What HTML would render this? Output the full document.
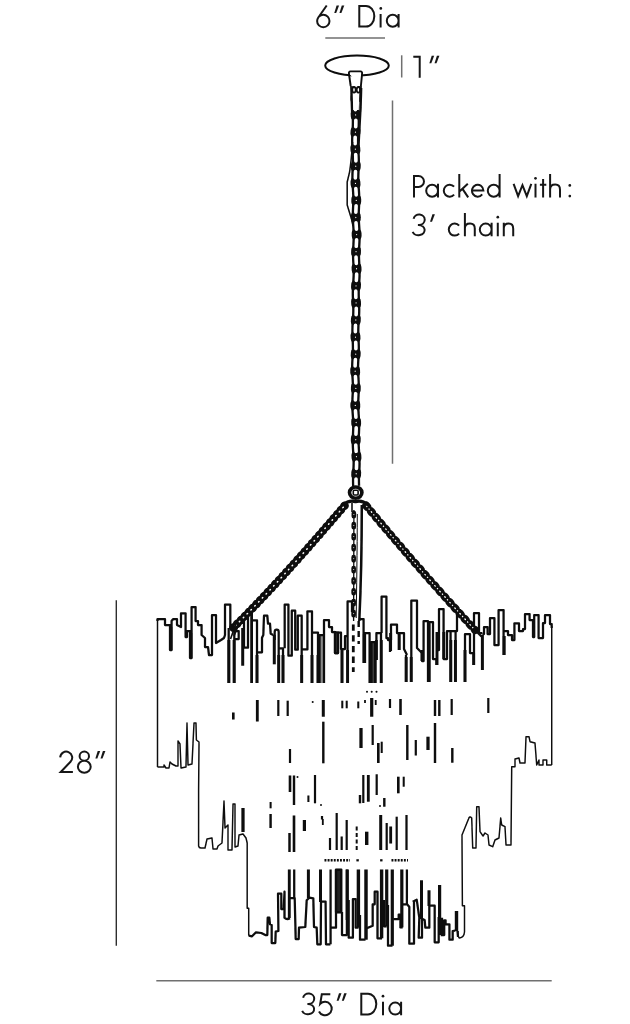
<!DOCTYPE html>
<html lang="en"><head><meta charset="utf-8"><title>Chandelier dimensions</title>
<style>
html,body{margin:0;padding:0;background:#fff;}
body{width:630px;height:1024px;overflow:hidden;font-family:"Liberation Sans",sans-serif;}
svg{display:block}
</style></head><body>
<svg width="630" height="1024" viewBox="0 0 630 1024">
<defs><filter id="soft" x="-2%" y="-2%" width="104%" height="104%"><feGaussianBlur stdDeviation="0.38"/></filter></defs>
<rect width="630" height="1024" fill="#fff"/>
<g filter="url(#soft)">

<g stroke="#6f6f6f" stroke-width="1.5" fill="none">
<path d="M325.3,38 H385"/>
<path d="M401.7,55.3 V77.5"/>
<path d="M392.5,100.6 V463.7"/>
<path d="M156.3,980.8 H551.7"/>
</g>
<path d="M116.3,600.3 V945.8" stroke="#2e2e2e" stroke-width="1.4" fill="none"/>
<g role="img" aria-label="6″ Dia"><title>6″ Dia</title><path d="M326.7,5.5 L318.3,17.5 M317.1,21.0 A6.2,6.2 0 1 0 329.5,21.0 A6.2,6.2 0 1 0 317.1,21.0 M318.3,17.5 Q317.2,19.1 317.1,21.0 M359.3,26.6 V5.899999999999999 H366.0 A8.3,10.35 0 0 1 366.0,26.6 Z M380.6,13.9 V27.5 M398.59999999999997,20.8 A5.9,6.0 0 1 1 386.8,20.8 A5.9,6.0 0 1 1 398.59999999999997,20.8 M398.6,13.9 V27.5" fill="none" stroke="#161616" stroke-width="2.0" stroke-linecap="butt" stroke-linejoin="miter"/><g fill="#161616"><path d="M336.60,5.5 L339.10,5.5 L336.20,12.9 L334.25,12.9 Z"/><path d="M341.80,5.5 L344.30,5.5 L341.40,12.9 L339.45,12.9 Z"/><circle cx="380.8" cy="8.399999999999999" r="1.35"/></g></g>
<g role="img" aria-label="1″"><title>1″</title><path d="M413.3,56.8 H419.7 V77.8" fill="none" stroke="#161616" stroke-width="2.0" stroke-linecap="butt" stroke-linejoin="miter"/><g fill="#161616"><path d="M431.70,55.8 L434.20,55.8 L431.30,63.199999999999996 L429.35,63.199999999999996 Z"/><path d="M436.90,55.8 L439.40,55.8 L436.50,63.199999999999996 L434.55,63.199999999999996 Z"/></g></g>
<g role="img" aria-label="Packed with:"><title>Packed with:</title><path d="M414.0,197.4 V176.0 H418.55 A5.45,5.45 0 0 1 418.55,186.9 H414.0 M437.99999999999994,190.70000000000002 A5.9,6.0 0 1 1 426.2,190.70000000000002 A5.9,6.0 0 1 1 437.99999999999994,190.70000000000002 M438.0,183.8 V197.4 M454.08,186.69 A5.9,6.0 0 1 0 454.08,194.71 M459.3,174.1 V197.4 M467.8,183.8 L459.5,191.6 M462.5,188.9 L468.2,197.4 M472.0,190.50000000000003 H483.4 A5.7,6.0 0 1 0 482.19,194.39 M499.59999999999997,190.70000000000002 A5.9,6.0 0 1 1 487.8,190.70000000000002 A5.9,6.0 0 1 1 499.59999999999997,190.70000000000002 M499.6,174.1 V197.4 M513.6,183.8 L518.1,196.1 L522.45,185.20000000000002 L526.8000000000001,196.1 L531.3000000000001,183.8 M535.5,183.8 V197.4 M543.1,178.9 V197.4 M539.9,184.8 H546.3000000000001 M550.0999999999999,174.1 V197.4 M550.0999999999999,189.4 C550.0999999999999,186.20000000000002 552.2779999999999,184.6 555.2479999999999,184.6 C558.3169999999999,184.6 559.9999999999999,186.4 559.9999999999999,189.8 V197.4" fill="none" stroke="#161616" stroke-width="2.0" stroke-linecap="butt" stroke-linejoin="miter"/><g fill="#161616"><circle cx="535.5" cy="178.3" r="1.35"/><circle cx="569.8" cy="185.4" r="1.35"/><circle cx="569.8" cy="196.1" r="1.35"/></g></g>
<g role="img" aria-label="3′ chain"><title>3′ chain</title><path d="M413.6,218.8 A5.6,5.2 0 1 1 419.1,224.9 H417.90000000000003 M418.45,224.9 A6.15,5.15 0 1 1 412.67,231.8 M459.08,225.59 A5.9,6.0 0 1 0 459.08,233.61 M464.90000000000003,213.0 V236.3 M464.90000000000003,228.3 C464.90000000000003,225.10000000000002 467.07800000000003,223.5 470.04800000000006,223.5 C473.117,223.5 474.8,225.3 474.8,228.70000000000002 V236.3 M491.59999999999997,229.60000000000002 A5.9,6.0 0 1 1 479.8,229.60000000000002 A5.9,6.0 0 1 1 491.59999999999997,229.60000000000002 M491.6,222.70000000000002 V236.3 M497.8,222.70000000000002 V236.3 M503.8,222.70000000000002 V236.3 M503.8,228.3 C503.8,225.10000000000002 505.868,223.5 508.688,223.5 C511.60200000000003,223.5 513.2,225.3 513.2,228.70000000000002 V236.3" fill="none" stroke="#161616" stroke-width="2.0" stroke-linecap="butt" stroke-linejoin="miter"/><g fill="#161616"><path d="M432.40,214.3 L434.90,214.3 L432.00,221.70000000000002 L430.05,221.70000000000002 Z"/><circle cx="497.8" cy="217.20000000000002" r="1.35"/></g></g>
<g role="img" aria-label="28″"><title>28″</title><path d="M60.199999999999996,757.4 A6.0,6.0 0 1 1 70.5,761.8 L60.699999999999996,772.1 H72.89999999999999 M84.3,751.6 A4.7,4.55 0 1 1 84.3,760.7 A4.7,4.55 0 1 1 84.3,751.6 M84.3,760.7 A6.4,6.05 0 1 1 84.3,772.8 A6.4,6.05 0 1 1 84.3,760.7" fill="none" stroke="#161616" stroke-width="2.0" stroke-linecap="butt" stroke-linejoin="miter"/><g fill="#161616"><path d="M97.70,751.0 L100.20,751.0 L97.30,758.4 L95.35,758.4 Z"/><path d="M102.90,751.0 L105.40,751.0 L102.50,758.4 L100.55,758.4 Z"/></g></g>
<g role="img" aria-label="35″ Dia"><title>35″ Dia</title><path d="M303.1,997.8 A5.6,5.2 0 1 1 308.6,1003.9 H307.40000000000003 M307.95,1003.9 A6.15,5.15 0 1 1 302.17,1010.8 M330.3,994.3 H321.8 L320.2,1003.9 A6.7,6.7 0 1 1 319.00,1011.50 M361.3,1014.4 V993.6999999999999 H368.0 A8.3,10.35 0 0 1 368.0,1014.4 Z M383.0,1001.6999999999999 V1015.3 M401.09999999999997,1008.5999999999999 A5.9,6.0 0 1 1 389.3,1008.5999999999999 A5.9,6.0 0 1 1 401.09999999999997,1008.5999999999999 M401.1,1001.6999999999999 V1015.3" fill="none" stroke="#161616" stroke-width="2.0" stroke-linecap="butt" stroke-linejoin="miter"/><g fill="#161616"><path d="M339.00,993.3 L341.50,993.3 L338.60,1000.6999999999999 L336.65,1000.6999999999999 Z"/><path d="M344.20,993.3 L346.70,993.3 L343.80,1000.6999999999999 L341.85,1000.6999999999999 Z"/><circle cx="383" cy="996.1999999999999" r="1.35"/></g></g>
<path d="M157.5,767 V619.2" fill="none" stroke="#0a0a0a" stroke-width="1.45" stroke-linejoin="round" />
<path d="M157.5,621 V619.2 H165 V625 H170 V650 H171.6 V621 L173,619.2 H177 V625 L181,627 V613.4 H185.6 V637 H187 V631 H190 V658 H191.6 V607 H195.6 V621 H198 V625 H201.6 V635 L205,638 V647 H208 L209,655 H212 V615 H216 V643 L221,640 L224,638 L225,635 V604.6 H230.3 V628" fill="none" stroke="#0a0a0a" stroke-width="2.25" stroke-linejoin="round" />
<path d="M228.7,628 V683 M234.3,683 V631 H238.7 V639 H234.3" fill="none" stroke="#0a0a0a" stroke-width="2.25" stroke-linejoin="round" />
<path d="M242.7,628 V665.7" fill="none" stroke="#0a0a0a" stroke-width="3.0" stroke-linejoin="round" />
<path d="M244,621 V647.7 H248 V615" fill="none" stroke="#0a0a0a" stroke-width="2.25" stroke-linejoin="round" />
<path d="M251.6,613 V683" fill="none" stroke="#0a0a0a" stroke-width="2.8000000000000003" stroke-linejoin="round" />
<path d="M257,683 V620.3 H253" fill="none" stroke="#0a0a0a" stroke-width="2.25" stroke-linejoin="round" />
<path d="M257,652.3 H262 V637.7 L263.3,635 L264,615.7 H267.3 L268,623.7 H270 L270.7,633.7 L273.3,635" fill="none" stroke="#0a0a0a" stroke-width="2.25" stroke-linejoin="round" />
<path d="M274.3,635 V664.3" fill="none" stroke="#0a0a0a" stroke-width="3.0" stroke-linejoin="round" />
<path d="M274.7,640 V632 Q274.7,629.7 276.7,629.7 Q278.7,629.7 278.7,632 V648.3 H283 V683 M278.7,648.3 V683" fill="none" stroke="#0a0a0a" stroke-width="2.25" stroke-linejoin="round" />
<path d="M284.7,648.3 V604.6 H288.4 V655.7 H291.8 V610.7 H295.2 V649.7 H297.8 V615.7 H301.7 V683 M301.7,649.4 H307.4 V611.4 H312 V683 M312,632.6 H318 V683" fill="none" stroke="#0a0a0a" stroke-width="2.25" stroke-linejoin="round" />
<path d="M319.5,683 V635 H324 V683" fill="#8a8a8a" stroke="#0a0a0a" stroke-width="2.25" stroke-linejoin="round" />
<path d="M324,635 V620 H329 V627 H332 V632 H335 V653 H338 V632.6 H341 V649 H345 V636 H347.6 M342,649 V683" fill="none" stroke="#0a0a0a" stroke-width="2.25" stroke-linejoin="round" />
<path d="M371,683 V642 H375 V683" fill="#555" stroke="#0a0a0a" stroke-width="2.25" stroke-linejoin="round" />
<path d="M335,632 V653 H338 V632.6 Z" fill="#333" stroke="#0a0a0a" stroke-width="2.25" stroke-linejoin="round" />
<path d="M347.6,683 V601.4 H352 V612" fill="none" stroke="#0a0a0a" stroke-width="2.25" stroke-linejoin="round" />
<path d="M359,619 H363.6 V663 M365,663 V633 H369.6 V683 M376.4,660 V633 H381 V683" fill="none" stroke="#0a0a0a" stroke-width="2.25" stroke-linejoin="round" />
<path d="M381.6,633 V596.6 H386.4 V638 H388 V640 H390 V652 M390,640 H391 V624.6 H397 V633 H399 V650 M399,633 H404 V649 L407,655" fill="none" stroke="#0a0a0a" stroke-width="2.25" stroke-linejoin="round" />
<path d="M406,655 V682 M411.3,682 V600.6 H417 V648 L422,653 V661 H423.6 V621 H428 V682 M429.5,682 V622 H433 V659 H436.4 V665 M436.4,650 H439 V609 H443.6 V659 H447 V631 H450.6 V682 M450.6,631 H455.6 V682 M455.6,631 H457 V610 H461" fill="none" stroke="#0a0a0a" stroke-width="2.25" stroke-linejoin="round" />
<path d="M465,682 V634 H470 V653 H474 M474,665 V613 H479 V633 H482.4" fill="none" stroke="#0a0a0a" stroke-width="2.25" stroke-linejoin="round" />
<path d="M482.4,635 V670" fill="none" stroke="#0a0a0a" stroke-width="3.0" stroke-linejoin="round" />
<path d="M482.4,634 H484 V627 H487.6 V634 H490 V618 H494.4 V645 H498.6 V610 H503.6 V655 M504.4,631 H508 V635 H512 V640 H514.4 V623.4 H519 V631 H523 V629 H525 V614 H529.6 V620 H533 V637 H534.2 V615 H538.6 V638 H543 V623 H545 V615 H550 V624 H551.7 V628" fill="none" stroke="#0a0a0a" stroke-width="2.25" stroke-linejoin="round" />
<path d="M551.7,626 V765" fill="none" stroke="#0a0a0a" stroke-width="1.45" stroke-linejoin="round" />
<path d="M390.6,633 V651" fill="none" stroke="#0a0a0a" stroke-width="2.9" stroke-linejoin="round" />
<path d="M399.2,634 V650" fill="none" stroke="#0a0a0a" stroke-width="2.9" stroke-linejoin="round" />
<path d="M422,650 V661" fill="none" stroke="#0a0a0a" stroke-width="2.9" stroke-linejoin="round" />
<path d="M437,632 V665" fill="none" stroke="#0a0a0a" stroke-width="2.9" stroke-linejoin="round" />
<path d="M443.8,632 V659" fill="none" stroke="#0a0a0a" stroke-width="2.9" stroke-linejoin="round" />
<path d="M450.8,640 V682" fill="none" stroke="#0a0a0a" stroke-width="2.9" stroke-linejoin="round" />
<path d="M455.4,640 V682" fill="none" stroke="#0a0a0a" stroke-width="2.9" stroke-linejoin="round" />
<path d="M473.6,653 V665" fill="none" stroke="#0a0a0a" stroke-width="2.9" stroke-linejoin="round" />
<path d="M504.2,636 V655" fill="none" stroke="#0a0a0a" stroke-width="2.9" stroke-linejoin="round" />
<path d="M406.2,657 V682" fill="none" stroke="#0a0a0a" stroke-width="2.9" stroke-linejoin="round" />
<path d="M411.2,657 V682" fill="none" stroke="#0a0a0a" stroke-width="2.9" stroke-linejoin="round" />
<path d="M428.7,640 V682" fill="none" stroke="#0a0a0a" stroke-width="2.9" stroke-linejoin="round" />
<path d="M465,650 V682" fill="none" stroke="#0a0a0a" stroke-width="2.9" stroke-linejoin="round" />
<path d="M170.8,627 V650" fill="none" stroke="#0a0a0a" stroke-width="2.9" stroke-linejoin="round" />
<path d="M190.8,633 V658" fill="none" stroke="#0a0a0a" stroke-width="2.9" stroke-linejoin="round" />
<path d="M342,650 V683" fill="none" stroke="#0a0a0a" stroke-width="2.9" stroke-linejoin="round" />
<path d="M364.3,634 V663" fill="none" stroke="#0a0a0a" stroke-width="2.9" stroke-linejoin="round" />
<path d="M376.4,640 V660" fill="none" stroke="#0a0a0a" stroke-width="2.9" stroke-linejoin="round" />
<path d="M381.3,640 V683" fill="none" stroke="#0a0a0a" stroke-width="2.9" stroke-linejoin="round" />
<path d="M371.2,643 V683" fill="none" stroke="#0a0a0a" stroke-width="2.9" stroke-linejoin="round" />
<path d="M375.2,643 V683" fill="none" stroke="#0a0a0a" stroke-width="2.9" stroke-linejoin="round" />
<path d="M301.7,655 V683" fill="none" stroke="#0a0a0a" stroke-width="2.9" stroke-linejoin="round" />
<path d="M312,655 V683" fill="none" stroke="#0a0a0a" stroke-width="2.9" stroke-linejoin="round" />
<path d="M318,655 V683" fill="none" stroke="#0a0a0a" stroke-width="2.9" stroke-linejoin="round" />
<path d="M283,655 V683" fill="none" stroke="#0a0a0a" stroke-width="2.9" stroke-linejoin="round" />
<path d="M278.7,655 V683" fill="none" stroke="#0a0a0a" stroke-width="2.9" stroke-linejoin="round" />
<path d="M228.9,640 V683" fill="none" stroke="#0a0a0a" stroke-width="2.9" stroke-linejoin="round" />
<path d="M234.1,640 V683" fill="none" stroke="#0a0a0a" stroke-width="2.9" stroke-linejoin="round" />
<path d="M257,655 V683" fill="none" stroke="#0a0a0a" stroke-width="2.9" stroke-linejoin="round" />
<path d="M347.6,650 V683" fill="none" stroke="#0a0a0a" stroke-width="2.9" stroke-linejoin="round" />
<path d="M551.7,765 H546.7 V760 H543 V765 H539 V760 L536.7,765 L535,743 L530,741.7 L529,736.7 H526 L525,763 H520 L519,758 L515,759 V766.7 H511.7 L511,845 H506 L505,826.7 L501.7,825 L500.7,818 L499,838 L495,840 L492.7,846.7 L489,845 L488,835 L485,833 L483,836 L480,831.7 L479,806.7 H476.7 L476,848 H472.7 L471.7,818 Q469.5,815.5 468.5,819 L462,835 L462.4,905.7 H464.5 V932 Q464,937.5 459.5,938 Q457.8,937.5 458,931" fill="none" stroke="#0a0a0a" stroke-width="1.45" stroke-linejoin="round" />
<path d="M157.5,767 H164 V765 L166,768 H169 L170,762 L172,764 L176,766 H178 V741 L180,744 L181,768 L186,767 L187,723 L188,765 L192,764 L194,723 H196 L196.4,740 L199,742 L198.6,790 V846 Q199,848 201,848 H205 L207,839 L212,838 L213,849 H217 L218,846 L222,843 L224,801 L225,828 L228,825 V850 H232 L233,804 H235 V847 L238,846 L239,835 L243,834 L246,838 L247.2,843 V908.3 H248.7 V935.7" fill="none" stroke="#0a0a0a" stroke-width="1.45" stroke-linejoin="round" />
<path d="M243,808 V832" fill="none" stroke="#0a0a0a" stroke-width="3.2" stroke-linejoin="round" />
<path d="M248.7,935.7 L252,936.3 L256,932.3 L261.3,933 L265.3,935 H267.3 L267.7,917.7 H269.3 L270,924.3 L271.7,925 V943 H275.3 L275.7,931.7 L278.4,931 L278,893.7 H281.3 V909 H283.7 L284.5,891.7 V917.7 Q286.7,920 290,918.3" fill="none" stroke="#0a0a0a" stroke-width="2.25" stroke-linejoin="round" />
<path d="M289.3,869.5 V918" fill="none" stroke="#0a0a0a" stroke-width="2.9" stroke-linejoin="round" />
<path d="M294.2,869.5 V898 M289.3,898 H294.7 L295.7,939 H298.7 L299,927.7 L305.3,927 L306.7,900.3 L309.3,897.7 L313.3,898.3 L314,927 L316.7,927.7 L317.3,944.3 H320.7 L321,901.7 H325.6 L326,944.3 H330.4" fill="none" stroke="#0a0a0a" stroke-width="2.25" stroke-linejoin="round" />
<path d="M308.4,869.5 V898" fill="none" stroke="#0a0a0a" stroke-width="3.0" stroke-linejoin="round" />
<path d="M320.5,869.5 V902" fill="none" stroke="#0a0a0a" stroke-width="3.0" stroke-linejoin="round" />
<path d="M330.6,944.3 V869.5 M331.3,927.7 H336 V869.5" fill="none" stroke="#0a0a0a" stroke-width="2.25" stroke-linejoin="round" />
<path d="M336,869.5 V912.3 H341.3 V869.5 Z" fill="#222" stroke="#0a0a0a" stroke-width="2.25" stroke-linejoin="round" />
<path d="M342,912 V935 H346.9 V869.5" fill="none" stroke="#0a0a0a" stroke-width="2.25" stroke-linejoin="round" />
<path d="M347.3,869.5 V920" fill="none" stroke="#0a0a0a" stroke-width="3.2" stroke-linejoin="round" />
<path d="M348.7,900 V937.7 H352.9 V899 H355.7 V927.7 H358.5" fill="none" stroke="#0a0a0a" stroke-width="2.25" stroke-linejoin="round" />
<path d="M358.4,869.5 V927.7" fill="none" stroke="#0a0a0a" stroke-width="3.4" stroke-linejoin="round" />
<path d="M360,915 V939.7 H365.5" fill="none" stroke="#0a0a0a" stroke-width="2.25" stroke-linejoin="round" />
<path d="M366,869.5 V939.7" fill="none" stroke="#0a0a0a" stroke-width="3.4" stroke-linejoin="round" />
<path d="M366.7,928.3 L372.7,925.7 V904.3 H374.7 V891.7 H377.5 V938.3 H382" fill="none" stroke="#0a0a0a" stroke-width="2.25" stroke-linejoin="round" />
<path d="M381.6,869.5 V938.3" fill="none" stroke="#0a0a0a" stroke-width="3.4" stroke-linejoin="round" />
<path d="M384,900 V926.3 H386.7" fill="none" stroke="#0a0a0a" stroke-width="2.25" stroke-linejoin="round" />
<path d="M386.7,869.5 V926.3" fill="none" stroke="#0a0a0a" stroke-width="3.2" stroke-linejoin="round" />
<path d="M388,905 V945.7 H392.5" fill="none" stroke="#0a0a0a" stroke-width="2.25" stroke-linejoin="round" />
<path d="M392.3,869.5 V945.7" fill="none" stroke="#0a0a0a" stroke-width="3.2" stroke-linejoin="round" />
<path d="M393.3,919 H398.7 V914.6 H400.4 V927.4 H402.7" fill="none" stroke="#0a0a0a" stroke-width="2.25" stroke-linejoin="round" />
<path d="M401.8,869.5 V927.4" fill="none" stroke="#0a0a0a" stroke-width="3.2" stroke-linejoin="round" />
<path d="M406.9,869.5 V904.3 M402,904.3 H407.3 L409.3,907 V943.7 H414 V901.7 M412.7,901.7 L416.7,899.7 L419.3,917.7 L418.7,937.7 H422 V919" fill="none" stroke="#0a0a0a" stroke-width="2.25" stroke-linejoin="round" />
<path d="M421.5,880.3 V919" fill="none" stroke="#0a0a0a" stroke-width="3.0" stroke-linejoin="round" />
<path d="M422.7,919 L424.7,920.3 L425.3,927.7 H429.3 V905.7" fill="none" stroke="#0a0a0a" stroke-width="2.25" stroke-linejoin="round" />
<path d="M429,890.3 V906" fill="none" stroke="#0a0a0a" stroke-width="3.0" stroke-linejoin="round" />
<path d="M430,905.7 H434.7 V942.3 H438.7 V917" fill="none" stroke="#0a0a0a" stroke-width="2.25" stroke-linejoin="round" />
<path d="M439.6,885 V935" fill="none" stroke="#0a0a0a" stroke-width="3.2" stroke-linejoin="round" />
<path d="M442,917.7 V935 M440.7,935 H444.2 V920.3 H445.6 V924.3 H449.4 V939.7 H452.7 V931 L455.3,930.6" fill="none" stroke="#0a0a0a" stroke-width="2.25" stroke-linejoin="round" />
<path d="M456.5,911 V931" fill="none" stroke="#0a0a0a" stroke-width="3.4" stroke-linejoin="round" />
<path d="M457.5,931 L458,937" fill="none" stroke="#0a0a0a" stroke-width="2.25" stroke-linejoin="round" />
<path d="M233.3,712.5 V719.5" stroke="#0a0a0a" stroke-width="2.6" fill="none"/>
<path d="M257.3,700 V721.5" stroke="#0a0a0a" stroke-width="2.8" fill="none"/>
<path d="M278.3,700 V716" stroke="#0a0a0a" stroke-width="2.2" fill="none"/>
<path d="M287.7,700.7 V716" stroke="#0a0a0a" stroke-width="2.2" fill="none"/>
<path d="M323.3,700 V716.7" stroke="#0a0a0a" stroke-width="3.0" fill="none"/>
<path d="M342.3,700.7 V708.3" stroke="#0a0a0a" stroke-width="2.0" fill="none"/>
<path d="M346.7,700.7 V708.3" stroke="#0a0a0a" stroke-width="2.0" fill="none"/>
<path d="M358.3,701.5 V708.3" stroke="#0a0a0a" stroke-width="2.0" fill="none"/>
<path d="M365,700 V703" stroke="#0a0a0a" stroke-width="1.7999999999999998" fill="none"/>
<path d="M371.7,698 V716.7" stroke="#0a0a0a" stroke-width="3.1999999999999997" fill="none"/>
<path d="M375.7,700 V705" stroke="#0a0a0a" stroke-width="1.7999999999999998" fill="none"/>
<path d="M390,699 V708" stroke="#0a0a0a" stroke-width="2.2" fill="none"/>
<path d="M400.5,699 V715" stroke="#0a0a0a" stroke-width="2.6" fill="none"/>
<path d="M435,700 V716" stroke="#0a0a0a" stroke-width="2.4" fill="none"/>
<path d="M439.3,700 V716" stroke="#0a0a0a" stroke-width="2.4" fill="none"/>
<path d="M451.7,699 V715" stroke="#0a0a0a" stroke-width="2.2" fill="none"/>
<path d="M488.3,698 V713" stroke="#0a0a0a" stroke-width="2.2" fill="none"/>
<path d="M290,749 V763" stroke="#0a0a0a" stroke-width="2.2" fill="none"/>
<path d="M323.3,721.7 V763.3" stroke="#0a0a0a" stroke-width="2.4" fill="none"/>
<path d="M361,728 V748" stroke="#0a0a0a" stroke-width="3.1999999999999997" fill="none"/>
<path d="M372.7,725 V745" stroke="#0a0a0a" stroke-width="2.2" fill="none"/>
<path d="M378.3,743 V763" stroke="#0a0a0a" stroke-width="2.6" fill="none"/>
<path d="M381.7,741.7 V753" stroke="#0a0a0a" stroke-width="2.0" fill="none"/>
<path d="M407.3,725 V760" stroke="#0a0a0a" stroke-width="2.4" fill="none"/>
<path d="M415.8,740 V755.5" stroke="#0a0a0a" stroke-width="2.2" fill="none"/>
<path d="M428,736.7 V750" stroke="#0a0a0a" stroke-width="3.1999999999999997" fill="none"/>
<path d="M435,723 V763" stroke="#0a0a0a" stroke-width="2.4" fill="none"/>
<path d="M452.3,748 V762.7" stroke="#0a0a0a" stroke-width="2.4" fill="none"/>
<path d="M290,775.5 V792" stroke="#0a0a0a" stroke-width="2.6" fill="none"/>
<path d="M294,775.5 V805" stroke="#0a0a0a" stroke-width="2.4" fill="none"/>
<path d="M308.4,795.5 V802" stroke="#0a0a0a" stroke-width="2.0" fill="none"/>
<path d="M315,775 V803.3" stroke="#0a0a0a" stroke-width="2.2" fill="none"/>
<path d="M360,795 V803.3" stroke="#0a0a0a" stroke-width="2.4" fill="none"/>
<path d="M363.3,775 V803" stroke="#0a0a0a" stroke-width="2.2" fill="none"/>
<path d="M368.3,775 V801.7" stroke="#0a0a0a" stroke-width="2.8" fill="none"/>
<path d="M376.7,774.3 V795" stroke="#0a0a0a" stroke-width="2.2" fill="none"/>
<path d="M384.3,798 V806.7" stroke="#0a0a0a" stroke-width="2.4" fill="none"/>
<path d="M398.3,776.7 V793.3" stroke="#0a0a0a" stroke-width="2.6" fill="none"/>
<path d="M403.7,776.7 V786.7" stroke="#0a0a0a" stroke-width="2.0" fill="none"/>
<path d="M270.6,802 V808.3" stroke="#0a0a0a" stroke-width="2.0" fill="none"/>
<path d="M270.6,814 V828" stroke="#0a0a0a" stroke-width="2.4" fill="none"/>
<path d="M294,815.5 V852" stroke="#0a0a0a" stroke-width="2.6" fill="none"/>
<path d="M289.5,833 V852" stroke="#0a0a0a" stroke-width="2.4" fill="none"/>
<path d="M304.4,820 V831" stroke="#0a0a0a" stroke-width="3.1999999999999997" fill="none"/>
<path d="M322,816 V819.5" stroke="#0a0a0a" stroke-width="2.2" fill="none"/>
<path d="M322.8,819 V825" stroke="#0a0a0a" stroke-width="1.7999999999999998" fill="none"/>
<path d="M330,838 V850" stroke="#0a0a0a" stroke-width="2.2" fill="none"/>
<path d="M336.7,813 V850" stroke="#0a0a0a" stroke-width="2.2" fill="none"/>
<path d="M341.7,836.5 V850" stroke="#0a0a0a" stroke-width="2.2" fill="none"/>
<path d="M346.7,820 V850" stroke="#0a0a0a" stroke-width="2.2" fill="none"/>
<path d="M366.7,831.7 V845" stroke="#0a0a0a" stroke-width="3.4" fill="none"/>
<path d="M380.7,815 V850" stroke="#0a0a0a" stroke-width="3.0" fill="none"/>
<path d="M386.7,823 V850" stroke="#0a0a0a" stroke-width="2.2" fill="none"/>
<path d="M390.7,826.5 V843.5" stroke="#0a0a0a" stroke-width="2.8" fill="none"/>
<path d="M396.7,816.7 V850" stroke="#0a0a0a" stroke-width="2.2" fill="none"/>
<path d="M406.5,815 V850" stroke="#0a0a0a" stroke-width="2.2" fill="none"/>
<path d="M356.7,826.5 V850" stroke="#0a0a0a" stroke-width="2" stroke-dasharray="4 2.5" fill="none"/>
<circle cx="312.7" cy="702" r="1" fill="#0a0a0a"/>
<circle cx="367" cy="691.7" r="1" fill="#0a0a0a"/>
<circle cx="371.7" cy="691.7" r="1" fill="#0a0a0a"/>
<circle cx="376.5" cy="691.7" r="1" fill="#0a0a0a"/>
<circle cx="297.5" cy="777" r="1" fill="#0a0a0a"/>
<circle cx="321" cy="805" r="1" fill="#0a0a0a"/>
<circle cx="380" cy="806" r="1" fill="#0a0a0a"/>
<path d="M324.5,860.3 H350" stroke="#0a0a0a" stroke-width="2.4" stroke-dasharray="1.9 1.2" fill="none"/>
<path d="M391.5,860.3 H408" stroke="#0a0a0a" stroke-width="2.4" stroke-dasharray="1.9 1.2" fill="none"/>
<rect x="356.4" y="859.2" width="2.4" height="2.2" fill="#0a0a0a"/>
<rect x="380.09999999999997" y="859.2" width="2.4" height="2.2" fill="#0a0a0a"/>
<ellipse cx="357" cy="65.5" rx="31.8" ry="10" fill="#fff" stroke="#0a0a0a" stroke-width="2"/>
<path d="M348.9,73.5 Q348.6,71.6 350.6,71.4 H360.4 Q362.4,71.6 362.1,73.5 L360.9,86 M350.7,86 L348.9,73.5" fill="#fff" stroke="#0a0a0a" stroke-width="1.9" stroke-linejoin="round"/>
<path d="M356.16,86.0 L356.10,88.0 L356.00,90.0 L355.88,92.0 L355.74,94.0 L355.60,96.0 L355.48,98.0 L355.37,100.0 L355.30,102.0 L355.27,104.0 L355.28,106.0 L355.32,108.0 L355.39,110.0 L355.49,112.0 L355.59,114.0 L355.69,116.0 L355.77,118.0 L355.82,120.0 L355.84,122.0 L355.82,124.0 L355.76,126.0 L355.68,128.0 L355.57,130.0 L355.45,132.0 L355.33,134.0 L355.23,136.0 L355.15,138.0 L355.11,140.0 L355.11,142.0 L355.14,144.0 L355.21,146.0 L355.31,148.0 L355.43,150.0 L355.55,152.0 L355.67,154.0 L355.77,156.0 L355.84,158.0 L355.88,160.0 L355.88,162.0 L355.84,164.0 L355.78,166.0 L355.69,168.0 L355.59,170.0 L355.50,172.0 L355.42,174.0 L355.37,176.0 L355.35,178.0 L355.37,180.0 L355.43,182.0 L355.52,184.0 L355.64,186.0 L355.78,188.0 L355.92,190.0 L356.05,192.0 L356.16,194.0 L356.24,196.0 L356.28,198.0 L356.28,200.0 L356.25,202.0 L356.19,204.0 L356.10,206.0 L356.01,208.0 L355.92,210.0 L355.85,212.0 L355.80,214.0 L355.79,216.0 L355.81,218.0 L355.88,220.0 L355.97,222.0 L356.09,224.0 L356.22,226.0 L356.35,228.0 L356.47,230.0 L356.56,232.0 L356.63,234.0 L356.65,236.0 L356.63,238.0 L356.58,240.0 L356.50,242.0 L356.40,244.0 L356.29,246.0 L356.18,248.0 L356.09,250.0 L356.03,252.0 L356.00,254.0 L356.01,256.0 L356.06,258.0 L356.13,260.0 L356.23,262.0 L356.34,264.0 L356.45,266.0 L356.54,268.0 L356.60,270.0 L356.64,272.0 L356.63,274.0 L356.59,276.0 L356.50,278.0 L356.39,280.0 L356.27,282.0 L356.13,284.0 L356.01,286.0 L355.90,288.0 L355.82,290.0 L355.78,292.0 L355.77,294.0 L355.80,296.0 L355.87,298.0 L355.95,300.0 L356.04,302.0 L356.13,304.0 L356.20,306.0 L356.25,308.0 L356.27,310.0 L356.24,312.0 L356.18,314.0 L356.08,316.0 L355.96,318.0 L355.83,320.0 L355.69,322.0 L355.56,324.0 L355.45,326.0 L355.38,328.0 L355.34,330.0 L355.34,332.0 L355.37,334.0 L355.44,336.0 L355.53,338.0 L355.63,340.0 L355.72,342.0 L355.80,344.0 L355.85,346.0 L355.87,348.0 L355.86,350.0 L355.80,352.0 L355.71,354.0 L355.60,356.0 L355.48,358.0 L355.36,360.0 L355.25,362.0 L355.17,364.0 L355.11,366.0 L355.10,368.0 L355.13,370.0 L355.19,372.0 L355.29,374.0 L355.40,376.0 L355.52,378.0 L355.64,380.0 L355.73,382.0 L355.80,384.0 L355.84,386.0 L355.84,388.0 L355.80,390.0 L355.74,392.0 L355.65,394.0 L355.55,396.0 L355.45,398.0 L355.37,400.0 L355.31,402.0 L355.29,404.0 L355.30,406.0 L355.35,408.0 L355.44,410.0 L355.56,412.0 L355.69,414.0 L355.83,416.0 L355.96,418.0 L356.07,420.0 L356.16,422.0 L356.20,424.0 L356.21,426.0 L356.18,428.0 L356.12,430.0 L356.04,432.0 L355.95,434.0 L355.86,436.0 L355.78,438.0 L355.74,440.0 L355.72,442.0 L355.74,444.0 L355.80,446.0 L355.90,448.0 L356.02,450.0 L356.15,452.0 L356.28,454.0 L356.41,456.0 L356.51,458.0 L356.58,460.0 L356.61,462.0 L356.60,464.0 L356.55,466.0 L356.48,468.0 L356.38,470.0 L356.27,472.0 L356.17,474.0 L356.08,476.0 L356.02,478.0 L356.00,480.0 L356.01,482.0 L356.05,484.0 L356.13,486.0" fill="none" stroke="#0a0a0a" stroke-width="8.2"/>
<path d="M356.16,86.0 L356.10,88.0 L356.00,90.0 L355.88,92.0 L355.74,94.0 L355.60,96.0 L355.48,98.0 L355.37,100.0 L355.30,102.0 L355.27,104.0 L355.28,106.0 L355.32,108.0 L355.39,110.0 L355.49,112.0 L355.59,114.0 L355.69,116.0 L355.77,118.0 L355.82,120.0 L355.84,122.0 L355.82,124.0 L355.76,126.0 L355.68,128.0 L355.57,130.0 L355.45,132.0 L355.33,134.0 L355.23,136.0 L355.15,138.0 L355.11,140.0 L355.11,142.0 L355.14,144.0 L355.21,146.0 L355.31,148.0 L355.43,150.0 L355.55,152.0 L355.67,154.0 L355.77,156.0 L355.84,158.0 L355.88,160.0 L355.88,162.0 L355.84,164.0 L355.78,166.0 L355.69,168.0 L355.59,170.0 L355.50,172.0 L355.42,174.0 L355.37,176.0 L355.35,178.0 L355.37,180.0 L355.43,182.0 L355.52,184.0 L355.64,186.0 L355.78,188.0 L355.92,190.0 L356.05,192.0 L356.16,194.0 L356.24,196.0 L356.28,198.0 L356.28,200.0 L356.25,202.0 L356.19,204.0 L356.10,206.0 L356.01,208.0 L355.92,210.0 L355.85,212.0 L355.80,214.0 L355.79,216.0 L355.81,218.0 L355.88,220.0 L355.97,222.0 L356.09,224.0 L356.22,226.0 L356.35,228.0 L356.47,230.0 L356.56,232.0 L356.63,234.0 L356.65,236.0 L356.63,238.0 L356.58,240.0 L356.50,242.0 L356.40,244.0 L356.29,246.0 L356.18,248.0 L356.09,250.0 L356.03,252.0 L356.00,254.0 L356.01,256.0 L356.06,258.0 L356.13,260.0 L356.23,262.0 L356.34,264.0 L356.45,266.0 L356.54,268.0 L356.60,270.0 L356.64,272.0 L356.63,274.0 L356.59,276.0 L356.50,278.0 L356.39,280.0 L356.27,282.0 L356.13,284.0 L356.01,286.0 L355.90,288.0 L355.82,290.0 L355.78,292.0 L355.77,294.0 L355.80,296.0 L355.87,298.0 L355.95,300.0 L356.04,302.0 L356.13,304.0 L356.20,306.0 L356.25,308.0 L356.27,310.0 L356.24,312.0 L356.18,314.0 L356.08,316.0 L355.96,318.0 L355.83,320.0 L355.69,322.0 L355.56,324.0 L355.45,326.0 L355.38,328.0 L355.34,330.0 L355.34,332.0 L355.37,334.0 L355.44,336.0 L355.53,338.0 L355.63,340.0 L355.72,342.0 L355.80,344.0 L355.85,346.0 L355.87,348.0 L355.86,350.0 L355.80,352.0 L355.71,354.0 L355.60,356.0 L355.48,358.0 L355.36,360.0 L355.25,362.0 L355.17,364.0 L355.11,366.0 L355.10,368.0 L355.13,370.0 L355.19,372.0 L355.29,374.0 L355.40,376.0 L355.52,378.0 L355.64,380.0 L355.73,382.0 L355.80,384.0 L355.84,386.0 L355.84,388.0 L355.80,390.0 L355.74,392.0 L355.65,394.0 L355.55,396.0 L355.45,398.0 L355.37,400.0 L355.31,402.0 L355.29,404.0 L355.30,406.0 L355.35,408.0 L355.44,410.0 L355.56,412.0 L355.69,414.0 L355.83,416.0 L355.96,418.0 L356.07,420.0 L356.16,422.0 L356.20,424.0 L356.21,426.0 L356.18,428.0 L356.12,430.0 L356.04,432.0 L355.95,434.0 L355.86,436.0 L355.78,438.0 L355.74,440.0 L355.72,442.0 L355.74,444.0 L355.80,446.0 L355.90,448.0 L356.02,450.0 L356.15,452.0 L356.28,454.0 L356.41,456.0 L356.51,458.0 L356.58,460.0 L356.61,462.0 L356.60,464.0 L356.55,466.0 L356.48,468.0 L356.38,470.0 L356.27,472.0 L356.17,474.0 L356.08,476.0 L356.02,478.0 L356.00,480.0 L356.01,482.0 L356.05,484.0 L356.13,486.0" fill="none" stroke="#0a0a0a" stroke-width="9.8" stroke-dasharray="3 14.1" stroke-linecap="round" stroke-dashoffset="-10.4"/>
<path d="M356.16,86.0 L356.10,88.0 L356.00,90.0 L355.88,92.0 L355.74,94.0 L355.60,96.0 L355.48,98.0 L355.37,100.0 L355.30,102.0 L355.27,104.0 L355.28,106.0 L355.32,108.0 L355.39,110.0 L355.49,112.0 L355.59,114.0 L355.69,116.0 L355.77,118.0 L355.82,120.0 L355.84,122.0 L355.82,124.0 L355.76,126.0 L355.68,128.0 L355.57,130.0 L355.45,132.0 L355.33,134.0 L355.23,136.0 L355.15,138.0 L355.11,140.0 L355.11,142.0 L355.14,144.0 L355.21,146.0 L355.31,148.0 L355.43,150.0 L355.55,152.0 L355.67,154.0 L355.77,156.0 L355.84,158.0 L355.88,160.0 L355.88,162.0 L355.84,164.0 L355.78,166.0 L355.69,168.0 L355.59,170.0 L355.50,172.0 L355.42,174.0 L355.37,176.0 L355.35,178.0 L355.37,180.0 L355.43,182.0 L355.52,184.0 L355.64,186.0 L355.78,188.0 L355.92,190.0 L356.05,192.0 L356.16,194.0 L356.24,196.0 L356.28,198.0 L356.28,200.0 L356.25,202.0 L356.19,204.0 L356.10,206.0 L356.01,208.0 L355.92,210.0 L355.85,212.0 L355.80,214.0 L355.79,216.0 L355.81,218.0 L355.88,220.0 L355.97,222.0 L356.09,224.0 L356.22,226.0 L356.35,228.0 L356.47,230.0 L356.56,232.0 L356.63,234.0 L356.65,236.0 L356.63,238.0 L356.58,240.0 L356.50,242.0 L356.40,244.0 L356.29,246.0 L356.18,248.0 L356.09,250.0 L356.03,252.0 L356.00,254.0 L356.01,256.0 L356.06,258.0 L356.13,260.0 L356.23,262.0 L356.34,264.0 L356.45,266.0 L356.54,268.0 L356.60,270.0 L356.64,272.0 L356.63,274.0 L356.59,276.0 L356.50,278.0 L356.39,280.0 L356.27,282.0 L356.13,284.0 L356.01,286.0 L355.90,288.0 L355.82,290.0 L355.78,292.0 L355.77,294.0 L355.80,296.0 L355.87,298.0 L355.95,300.0 L356.04,302.0 L356.13,304.0 L356.20,306.0 L356.25,308.0 L356.27,310.0 L356.24,312.0 L356.18,314.0 L356.08,316.0 L355.96,318.0 L355.83,320.0 L355.69,322.0 L355.56,324.0 L355.45,326.0 L355.38,328.0 L355.34,330.0 L355.34,332.0 L355.37,334.0 L355.44,336.0 L355.53,338.0 L355.63,340.0 L355.72,342.0 L355.80,344.0 L355.85,346.0 L355.87,348.0 L355.86,350.0 L355.80,352.0 L355.71,354.0 L355.60,356.0 L355.48,358.0 L355.36,360.0 L355.25,362.0 L355.17,364.0 L355.11,366.0 L355.10,368.0 L355.13,370.0 L355.19,372.0 L355.29,374.0 L355.40,376.0 L355.52,378.0 L355.64,380.0 L355.73,382.0 L355.80,384.0 L355.84,386.0 L355.84,388.0 L355.80,390.0 L355.74,392.0 L355.65,394.0 L355.55,396.0 L355.45,398.0 L355.37,400.0 L355.31,402.0 L355.29,404.0 L355.30,406.0 L355.35,408.0 L355.44,410.0 L355.56,412.0 L355.69,414.0 L355.83,416.0 L355.96,418.0 L356.07,420.0 L356.16,422.0 L356.20,424.0 L356.21,426.0 L356.18,428.0 L356.12,430.0 L356.04,432.0 L355.95,434.0 L355.86,436.0 L355.78,438.0 L355.74,440.0 L355.72,442.0 L355.74,444.0 L355.80,446.0 L355.90,448.0 L356.02,450.0 L356.15,452.0 L356.28,454.0 L356.41,456.0 L356.51,458.0 L356.58,460.0 L356.61,462.0 L356.60,464.0 L356.55,466.0 L356.48,468.0 L356.38,470.0 L356.27,472.0 L356.17,474.0 L356.08,476.0 L356.02,478.0 L356.00,480.0 L356.01,482.0 L356.05,484.0 L356.13,486.0" fill="none" stroke="#fff" stroke-width="3.6" stroke-dasharray="6.4 10.7" stroke-linecap="round" stroke-dashoffset="-0.15"/>
<path d="M356.16,86.0 L356.10,88.0 L356.00,90.0 L355.88,92.0 L355.74,94.0 L355.60,96.0 L355.48,98.0 L355.37,100.0 L355.30,102.0 L355.27,104.0 L355.28,106.0 L355.32,108.0 L355.39,110.0 L355.49,112.0 L355.59,114.0 L355.69,116.0 L355.77,118.0 L355.82,120.0 L355.84,122.0 L355.82,124.0 L355.76,126.0 L355.68,128.0 L355.57,130.0 L355.45,132.0 L355.33,134.0 L355.23,136.0 L355.15,138.0 L355.11,140.0 L355.11,142.0 L355.14,144.0 L355.21,146.0 L355.31,148.0 L355.43,150.0 L355.55,152.0 L355.67,154.0 L355.77,156.0 L355.84,158.0 L355.88,160.0 L355.88,162.0 L355.84,164.0 L355.78,166.0 L355.69,168.0 L355.59,170.0 L355.50,172.0 L355.42,174.0 L355.37,176.0 L355.35,178.0 L355.37,180.0 L355.43,182.0 L355.52,184.0 L355.64,186.0 L355.78,188.0 L355.92,190.0 L356.05,192.0 L356.16,194.0 L356.24,196.0 L356.28,198.0 L356.28,200.0 L356.25,202.0 L356.19,204.0 L356.10,206.0 L356.01,208.0 L355.92,210.0 L355.85,212.0 L355.80,214.0 L355.79,216.0 L355.81,218.0 L355.88,220.0 L355.97,222.0 L356.09,224.0 L356.22,226.0 L356.35,228.0 L356.47,230.0 L356.56,232.0 L356.63,234.0 L356.65,236.0 L356.63,238.0 L356.58,240.0 L356.50,242.0 L356.40,244.0 L356.29,246.0 L356.18,248.0 L356.09,250.0 L356.03,252.0 L356.00,254.0 L356.01,256.0 L356.06,258.0 L356.13,260.0 L356.23,262.0 L356.34,264.0 L356.45,266.0 L356.54,268.0 L356.60,270.0 L356.64,272.0 L356.63,274.0 L356.59,276.0 L356.50,278.0 L356.39,280.0 L356.27,282.0 L356.13,284.0 L356.01,286.0 L355.90,288.0 L355.82,290.0 L355.78,292.0 L355.77,294.0 L355.80,296.0 L355.87,298.0 L355.95,300.0 L356.04,302.0 L356.13,304.0 L356.20,306.0 L356.25,308.0 L356.27,310.0 L356.24,312.0 L356.18,314.0 L356.08,316.0 L355.96,318.0 L355.83,320.0 L355.69,322.0 L355.56,324.0 L355.45,326.0 L355.38,328.0 L355.34,330.0 L355.34,332.0 L355.37,334.0 L355.44,336.0 L355.53,338.0 L355.63,340.0 L355.72,342.0 L355.80,344.0 L355.85,346.0 L355.87,348.0 L355.86,350.0 L355.80,352.0 L355.71,354.0 L355.60,356.0 L355.48,358.0 L355.36,360.0 L355.25,362.0 L355.17,364.0 L355.11,366.0 L355.10,368.0 L355.13,370.0 L355.19,372.0 L355.29,374.0 L355.40,376.0 L355.52,378.0 L355.64,380.0 L355.73,382.0 L355.80,384.0 L355.84,386.0 L355.84,388.0 L355.80,390.0 L355.74,392.0 L355.65,394.0 L355.55,396.0 L355.45,398.0 L355.37,400.0 L355.31,402.0 L355.29,404.0 L355.30,406.0 L355.35,408.0 L355.44,410.0 L355.56,412.0 L355.69,414.0 L355.83,416.0 L355.96,418.0 L356.07,420.0 L356.16,422.0 L356.20,424.0 L356.21,426.0 L356.18,428.0 L356.12,430.0 L356.04,432.0 L355.95,434.0 L355.86,436.0 L355.78,438.0 L355.74,440.0 L355.72,442.0 L355.74,444.0 L355.80,446.0 L355.90,448.0 L356.02,450.0 L356.15,452.0 L356.28,454.0 L356.41,456.0 L356.51,458.0 L356.58,460.0 L356.61,462.0 L356.60,464.0 L356.55,466.0 L356.48,468.0 L356.38,470.0 L356.27,472.0 L356.17,474.0 L356.08,476.0 L356.02,478.0 L356.00,480.0 L356.01,482.0 L356.05,484.0 L356.13,486.0" fill="none" stroke="#fff" stroke-width="1.2" stroke-dasharray="0.1 17.0" stroke-linecap="round" stroke-dashoffset="-11.85"/>
<path d="M351,86 L351.8,112 M361,86 L360.2,112" fill="none" stroke="#0a0a0a" stroke-width="1.8"/>
<path d="M352.5,86.5 L353.2,110 H358.8 L359.5,86.5 Z" fill="#fff" stroke="none"/>
<ellipse cx="354.0" cy="89.8" rx="1.7" ry="2.8" fill="none" stroke="#0a0a0a" stroke-width="1.8"/><ellipse cx="358.4" cy="89.8" rx="1.7" ry="2.8" fill="none" stroke="#0a0a0a" stroke-width="1.8"/>
<path d="M352.6,142 C351.5,158 350.5,166 349.6,172 L347.2,182 V205 L351.8,220 L353,226" fill="none" stroke="#0a0a0a" stroke-width="1.5" stroke-linejoin="round"/>
<path d="M361.6,88 C361.2,110 359.6,130 358.8,150" fill="none" stroke="#0a0a0a" stroke-width="1.5"/>
<path d="M344.6,505.6 Q278.2,583.6 233,628" fill="none" stroke="#0a0a0a" stroke-width="7.0" stroke-linecap="round"/>
<path d="M344.6,505.6 Q278.2,583.6 233,628" fill="none" stroke="#0a0a0a" stroke-width="8.4" stroke-dasharray="0.1 5.4" stroke-linecap="round"/>
<path d="M344.6,505.6 Q278.2,583.6 233,628" fill="none" stroke="#fff" stroke-width="1.5" stroke-dasharray="0.6 4.9" stroke-linecap="round" stroke-dashoffset="-2"/>
<path d="M366.2,505.6 Q418.5,568.8 475,630" fill="none" stroke="#0a0a0a" stroke-width="5.4" stroke-linecap="round"/>
<path d="M366.2,505.6 Q418.5,568.8 475,630" fill="none" stroke="#0a0a0a" stroke-width="8.0" stroke-dasharray="1.6 5.9" stroke-linecap="round"/>
<path d="M366.2,505.6 Q418.5,568.8 475,630" fill="none" stroke="#fff" stroke-width="1.3" stroke-dasharray="0.7 6.8" stroke-linecap="round" stroke-dashoffset="-0.45"/>
<path d="M366.2,505.6 Q418.5,568.8 475,630" fill="none" stroke="#fff" stroke-width="1.2" stroke-dasharray="1.4 6.1" stroke-dashoffset="-3.8"/>
<path d="M474.5,629.5 L481.5,636.5" fill="none" stroke="#0a0a0a" stroke-width="2.2"/>
<path d="M236.5,622 L230.5,639 M239,623.5 L234,636" fill="none" stroke="#0a0a0a" stroke-width="1.6"/>
<path d="M353.9,510 C353.5,550 353.8,590 353.6,621" fill="none" stroke="#0a0a0a" stroke-width="1.3"/>
<path d="M353.9,510 C353.5,550 353.8,590 353.6,621" fill="none" stroke="#0a0a0a" stroke-width="4.6" stroke-dasharray="3.2 7.8" stroke-linecap="round" stroke-dashoffset="-3"/>
<path d="M353.9,510 C353.5,550 353.8,590 353.6,621" fill="none" stroke="#fff" stroke-width="0.9" stroke-dasharray="0.9 10.1" stroke-dashoffset="-4.1"/>
<path d="M357.3,514 C357.2,550 356.6,590 356.2,618" fill="none" stroke="#0a0a0a" stroke-width="1.0"/>
<path d="M361.8,505 C361.8,540 361.2,580 359.3,621" fill="none" stroke="#0a0a0a" stroke-width="2.5"/>
<path d="M353.3,624.5 V672" fill="none" stroke="#0a0a0a" stroke-width="2.8" stroke-dasharray="6.3 4.4"/>
<path d="M358.7,621 V644" fill="none" stroke="#0a0a0a" stroke-width="2.4" stroke-dasharray="6 4"/>
<ellipse cx="355.7" cy="492.6" rx="6.2" ry="5.6" fill="#fff" stroke="#0a0a0a" stroke-width="3.6"/>
<rect x="353.3" y="490.2" width="4.8" height="4.8" rx="1" fill="#fff" stroke="#0a0a0a" stroke-width="1.6"/>
<path d="M343.5,504.6 Q349,499.6 355.5,501.6 Q362,499.6 367.5,504.6" fill="none" stroke="#0a0a0a" stroke-width="3.2" stroke-linecap="round"/>
<path d="M352,503 V512" fill="none" stroke="#0a0a0a" stroke-width="1.6"/>
</g>
</svg></body></html>
